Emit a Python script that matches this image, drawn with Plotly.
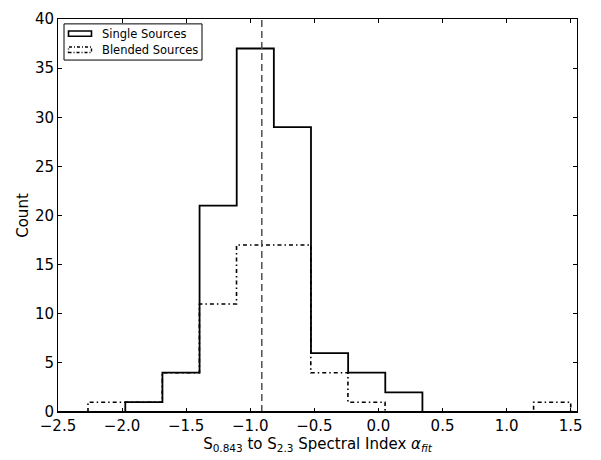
import numpy as np
import plotly.graph_objects as go

# ---- data ----
single_counts = [1, 4, 21, 37, 29, 6, 4, 2]
single_edge_min, single_edge_max = -1.975, 0.343
blended_counts = [1, 1, 4, 11, 17, 17, 4, 1, 0, 0, 0, 0, 1]
blended_edge_min, blended_edge_max = -2.266, 1.5
median_alpha = -0.91
x_ticks = [-2.5, -2.0, -1.5, -1.0, -0.5, 0.0, 0.5, 1.0, 1.5]
y_ticks = [0, 5, 10, 15, 20, 25, 30, 35, 40]

single_edges = np.linspace(single_edge_min, single_edge_max, len(single_counts) + 1)
blended_edges = np.linspace(blended_edge_min, blended_edge_max, len(blended_counts) + 1)


def step_xy(edges, counts):
    xs = [edges[0]] + list(edges) + [edges[-1]]
    ys = [0] + list(counts) + [counts[-1], 0]
    return xs, ys


FONT = "DejaVu Sans"
fig = go.Figure()

bx, by = step_xy(blended_edges, blended_counts)
fig.add_trace(go.Scatter(x=bx, y=by, mode="lines", line_shape="hv",
                         line=dict(color="black", width=1.6, dash="4px,3px,1.5px,3px"),
                         name="Blended Sources", showlegend=False, hoverinfo="skip"))
sx, sy = step_xy(single_edges, single_counts)
fig.add_trace(go.Scatter(x=sx, y=sy, mode="lines", line_shape="hv",
                         line=dict(color="black", width=1.8),
                         name="Single Sources", showlegend=False, hoverinfo="skip"))

fig.add_shape(type="line", xref="x", yref="paper", x0=median_alpha, x1=median_alpha,
              y0=0, y1=1, line=dict(color="#444444", width=1.4, dash="7px,4px"))
# bottom frame drawn over the zero-height parts of the step lines
fig.add_shape(type="line", xref="paper", yref="paper", x0=0, x1=1, y0=0, y1=0,
              line=dict(color="black", width=2), layer="above")

# ---- manual legend (matplotlib style patches) ----
L, R, T, B = 58, 577, 10, 412
W, H = R - L, B - T


def px(x):
    return (x - L) / W


def py(y):
    return (B - y) / H


fig.add_shape(type="rect", xref="paper", yref="paper",
              x0=px(64), x1=px(202), y0=py(52), y1=py(15),
              line=dict(color="black", width=1), fillcolor="white")
fig.add_shape(type="rect", xref="paper", yref="paper",
              x0=px(68.5), x1=px(91.5), y0=py(27.7), y1=py(22.3),
              line=dict(color="black", width=1.6))
fig.add_shape(type="rect", xref="paper", yref="paper",
              x0=px(68.5), x1=px(91.5), y0=py(44.3), y1=py(38.7),
              line=dict(color="black", width=1.4, dash="3px,2px,1px,2px"))
fig.add_annotation(xref="paper", yref="paper", x=px(100), y=py(25.5), text="Single Sources",
                   showarrow=False, xanchor="left", yanchor="middle",
                   font=dict(family=FONT, size=11.5, color="black"))
fig.add_annotation(xref="paper", yref="paper", x=px(100), y=py(42), text="Blended Sources",
                   showarrow=False, xanchor="left", yanchor="middle",
                   font=dict(family=FONT, size=11.5, color="black"))

axis_common = dict(showline=True, linecolor="black", linewidth=1, mirror="ticks",
                   ticks="inside", ticklen=4, tickwidth=1, tickcolor="black",
                   showgrid=False, zeroline=False,
                   tickfont=dict(family=FONT, size=15, color="black"))

fig.update_xaxes(range=[-2.5, 1.549], tickvals=x_ticks,
                 ticktext=[f"{v:.1f}".replace("-", "\u2212") for v in x_ticks],
                 title=dict(text="S<sub>0.843</sub> to S<sub>2.3</sub> Spectral Index <i>α<sub>fit</sub></i>",
                            font=dict(family=FONT, size=15, color="black"), standoff=2),
                 **axis_common)
fig.update_yaxes(range=[0, 40], tickvals=y_ticks,
                 title=dict(text="Count", font=dict(family=FONT, size=15, color="black"), standoff=2),
                 **axis_common)

fig.update_layout(width=601, height=460, margin=dict(l=L, r=601 - R, t=T, b=460 - B),
                  plot_bgcolor="white", paper_bgcolor="white", showlegend=False,
                  font=dict(family=FONT, size=15, color="black"))

fig.write_html("out.html")
